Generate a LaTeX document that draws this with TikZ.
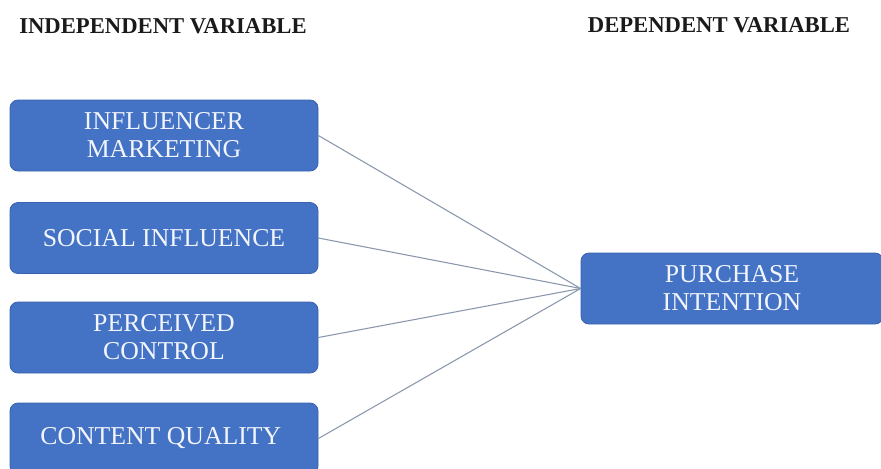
\documentclass[tikz,border=0pt]{standalone}
\usepackage{fontspec}
\setmainfont{Liberation Serif}
\usepackage{tikz}
\usetikzlibrary{
  positioning
}
\definecolor{boxfill}{HTML}{4472C4}
\definecolor{boxedge}{HTML}{3A62AC}
\definecolor{boxtext}{HTML}{F2F6FC}
\definecolor{linkgrey}{HTML}{8A97AB}
\definecolor{ink}{HTML}{1A1A1A}
\tikzset{
  varbox/.style={
    draw=boxedge,
    fill=boxfill,
    line width=0.6pt,
    rounded corners=6pt,
    minimum height=53.25pt,
    align=center,
    text=boxtext,
    font=\fontsize{19.3}{21}\selectfont
  },
  heading/.style={
    text=ink,
    inner sep=0pt,
    font=\fontsize{17}{20}\selectfont\bfseries
  },
  link/.style={
    draw=linkgrey,
    line width=0.8pt
  }
}

\begin{document}
\begin{tikzpicture}[x=0.75pt,y=-0.75pt]
  \useasboundingbox (0,0) rectangle (881,468);
  \clip (0,0) rectangle (881,468);
  % column titles
  \node[heading] (ivtitle) at (163,26) {INDEPENDENT VARIABLE};
  \node[heading] (dvtitle) at (719,25) {DEPENDENT VARIABLE};
  % dependent variable
  \node[varbox, minimum width=226.5pt] (dv) at (732,288.5) {PURCHASE\\INTENTION};
  % independent variables
  \foreach \k/\ypos/\txt in {
    1/135.5/{INFLUENCER\\MARKETING},
    2/238/{SOCIAL INFLUENCE},
    3/337.5/{PERCEIVED\\CONTROL},
    4/438.5/{CONTENT QUALITY}
  }{
    \node[varbox, minimum width=231pt] (iv\k) at (164,\ypos) {\txt};
    \draw[link] (iv\k.east) -- (dv.west);
  }
\end{tikzpicture}
\end{document}
